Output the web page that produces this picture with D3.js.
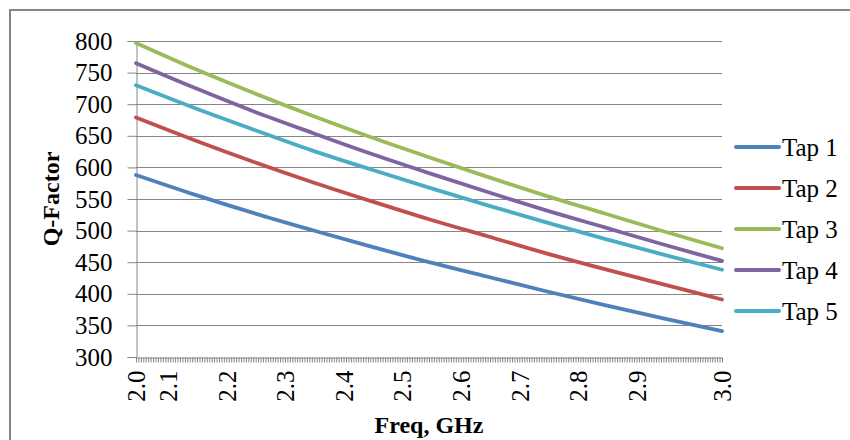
<!DOCTYPE html>
<html>
<head>
<meta charset="utf-8">
<script src="https://cdn.jsdelivr.net/npm/d3@7"></script>
<style>
  html, body { margin: 0; padding: 0; background: #fff; }
  svg { display: block; }
  svg text { font-family: "Liberation Serif", "Times New Roman", serif; }
</style>
</head>
<body>
<svg id="chart" width="850" height="440"></svg>
<script>
// Frequency sweep: the axis is divided into equal frequency steps (categories).
const categoryCount = 240;
const sampleIdx = [0, 24, 48, 72, 96, 120, 144, 168, 192, 216, 240];

// Q-factor of each tap at the sampled frequency steps
const tap1 = [588, 557, 528, 501, 475, 450, 427, 404, 382, 361, 341];
const tap2 = [679, 643, 609, 577, 547, 518, 491, 464, 439, 415, 391];
const tap3 = [797, 756, 718, 682, 648, 616, 585, 555, 527, 499, 472];
const tap4 = [765, 726, 689, 655, 622, 591, 561, 532, 505, 478, 452];
const tap5 = [730, 694, 660, 627, 597, 568, 540, 513, 487, 462, 438];

const seriesNames = ["Tap 1", "Tap 2", "Tap 3", "Tap 4", "Tap 5"];
const seriesColors = ["#4F81BD", "#C0504D", "#9BBB59", "#8064A2", "#4BACC6"];

// Frequency labels and the category step each one sits on
const freqLabels = ["2.0", "2.1", "2.2", "2.3", "2.4", "2.5", "2.6", "2.7", "2.8", "2.9", "3.0"];
const freqLabelIdx = [0, 13, 37, 61, 85, 109, 133, 157, 181, 205, 240];

const yTicks = [300, 350, 400, 450, 500, 550, 600, 650, 700, 750, 800];

const FONT = "'Liberation Serif', 'Times New Roman', serif";

const svg = d3.select("#chart");
const plot = { left: 136, right: 722, top: 41, bottom: 357 };

const x = d3.scaleLinear().domain([0, categoryCount]).range([plot.left, plot.right]);
const y = d3.scaleLinear().domain([300, 800]).range([plot.bottom, plot.top]);

// Outer chart frame
svg.append("rect")
  .attr("x", 10).attr("y", 10)
  .attr("width", 900).attr("height", 500)
  .attr("fill", "none").attr("stroke", "#868686").attr("stroke-width", 2);

// Horizontal gridlines
svg.append("g").selectAll("line").data(yTicks.filter(v => v > 300)).join("line")
  .attr("x1", plot.left).attr("x2", plot.right)
  .attr("y1", d => Math.round(y(d)) + 0.5).attr("y2", d => Math.round(y(d)) + 0.5)
  .attr("stroke", "#868686").attr("stroke-width", 1);

// Y axis
const yAxis = svg.append("g")
  .attr("transform", `translate(${plot.left + 0.5},0)`)
  .call(d3.axisLeft(y).tickValues(yTicks).tickSize(9).tickPadding(15).tickFormat(d3.format("d")))
  .attr("font-family", FONT).attr("font-size", 25);
yAxis.select(".domain").attr("stroke", "#868686");
yAxis.selectAll(".tick line").attr("stroke", "#868686");
yAxis.selectAll(".tick text")
  .style("font-family", FONT).style("font-size", "25px").attr("fill", "#000");

// X axis with a tick for every category step
const labelAt = new Map(freqLabelIdx.map((v, i) => [v, freqLabels[i]]));
const xAxis = svg.append("g")
  .attr("transform", `translate(0,${plot.bottom + 0.5})`)
  .call(d3.axisBottom(x).tickValues(d3.range(0, categoryCount + 1)).tickSize(5).tickSizeOuter(0)
    .tickFormat(d => labelAt.has(d) ? labelAt.get(d) : ""))
  .attr("font-family", FONT).attr("font-size", 25);
xAxis.select(".domain").attr("stroke", "#868686");
xAxis.selectAll(".tick line").attr("stroke", "#868686");
xAxis.selectAll(".tick text")
  .style("font-family", FONT).style("font-size", "25px").attr("fill", "#000")
  .attr("transform", "rotate(-90)")
  .attr("text-anchor", "end")
  .attr("x", -13).attr("y", 0).attr("dy", "0.35em");

// Series lines
const line = d3.line()
  .x((d, i) => x(sampleIdx[i]))
  .y(d => y(d))
  .curve(d3.curveMonotoneX);

const allSeries = [tap1, tap2, tap3, tap4, tap5];
svg.append("g").selectAll("path").data(allSeries).join("path")
  .attr("d", line)
  .attr("fill", "none")
  .attr("stroke", (d, i) => seriesColors[i])
  .attr("stroke-width", 3.8)
  .attr("stroke-linecap", "round");

// Axis titles
svg.append("text")
  .attr("x", (plot.left + plot.right) / 2).attr("y", 433)
  .attr("text-anchor", "middle")
  .style("font-family", FONT).attr("font-weight", "bold").attr("font-size", 24)
  .text("Freq, GHz");

svg.append("text")
  .attr("transform", `translate(59,${(plot.top + plot.bottom) / 2}) rotate(-90)`)
  .attr("text-anchor", "middle")
  .style("font-family", FONT).attr("font-weight", "bold").attr("font-size", 24)
  .text("Q-Factor");

// Legend
const legend = svg.append("g").selectAll("g").data(seriesNames).join("g")
  .attr("transform", (d, i) => `translate(736,${147 + i * 41})`);
legend.append("line")
  .attr("x1", 0).attr("x2", 43).attr("y1", 0).attr("y2", 0)
  .attr("stroke", (d, i) => seriesColors[i]).attr("stroke-width", 4)
  .attr("stroke-linecap", "round");
legend.append("text")
  .attr("x", 46).attr("y", 0).attr("dy", "0.35em")
  .style("font-family", FONT).attr("font-size", 25).attr("fill", "#000")
  .text(d => d);
</script>
</body>
</html>
